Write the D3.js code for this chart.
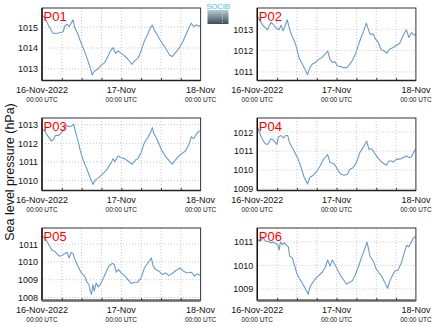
<!DOCTYPE html>
<html>
<head>
<meta charset="utf-8">
<script src="https://cdn.jsdelivr.net/npm/d3@7"></script>
<style>
  html, body { margin: 0; padding: 0; background: #fff; }
  svg { display: block; font-family: "Liberation Sans", Arial, sans-serif; }
</style>
</head>
<body>
<div id="chart"></div>
<script>
// Sea level pressure at six stations, 16–18 Nov 2022 (hours since 16-Nov 00:00 UTC, hPa)
const stations = ['P01', 'P02', 'P03', 'P04', 'P05', 'P06'];

const P01 = [[0,1015.58],[0.8,1015.46],[1.8,1015.14],[3.3,1014.71],[4.8,1014.71],[6.4,1014.78],[6.9,1015.06],[7.6,1015.14],[8.2,1015.03],[8.6,1015.14],[9.4,1015.35],[9.9,1014.98],[10.9,1014.66],[11.4,1014.42],[12.4,1014.02],[13.4,1013.62],[14.4,1013.14],[15.2,1012.71],[15.9,1012.9],[16.9,1012.98],[17.9,1013.18],[19,1013.3],[20,1013.62],[20.7,1013.86],[21.5,1014.02],[22.3,1013.74],[23,1013.86],[24,1013.74],[25,1013.62],[26,1013.46],[27.2,1013.22],[28,1013.38],[29,1013.5],[30,1013.86],[31,1014.34],[32,1014.66],[32.8,1014.98],[33.4,1015.1],[34.1,1014.82],[34.8,1014.66],[35.6,1014.42],[36.6,1014.18],[37.6,1013.94],[38.6,1013.66],[39.4,1013.59],[40.4,1013.78],[41.6,1014.02],[42.6,1014.3],[43.6,1014.66],[44.5,1014.98],[45.2,1015.19],[45.9,1015.03],[46.7,1015.1],[47.5,1015.06],[48,1015.06]];
const P02 = [[0,1013.63],[0.8,1013.39],[1.8,1013.16],[3.1,1012.97],[4.1,1013.31],[4.8,1013.23],[5.5,1013.08],[6.6,1012.97],[7.2,1013.19],[7.8,1012.92],[8.4,1013.16],[9.1,1013.44],[9.7,1013.03],[10.4,1012.72],[11.2,1012.45],[11.9,1012.14],[12.6,1011.67],[13.4,1011.44],[14.4,1011.13],[15.2,1010.88],[15.9,1011.2],[16.6,1011.36],[17.6,1011.44],[18.6,1011.59],[19.5,1011.67],[20.5,1011.83],[21.3,1011.98],[22,1011.59],[22.7,1011.44],[23.5,1011.47],[24.3,1011.28],[25.3,1011.25],[26,1011.2],[27,1011.2],[27.7,1011.31],[28.7,1011.52],[29.7,1011.83],[30.5,1012.22],[31.4,1012.61],[32.2,1012.92],[33,1013.28],[33.6,1013.0],[34.1,1012.77],[35.1,1012.77],[35.8,1012.53],[36.6,1012.38],[37.4,1012.06],[38.4,1011.98],[39.2,1011.88],[40,1012.06],[41.1,1012.14],[42.1,1012.25],[43.1,1012.34],[44.1,1012.69],[45.1,1012.97],[45.9,1012.61],[46.7,1012.84],[47.5,1012.72],[48,1012.77]];
const P03 = [[0,1012.79],[0.8,1012.66],[1.8,1012.39],[2.8,1012.13],[3.5,1012.21],[4.1,1012.43],[5.1,1012.43],[5.9,1012.57],[6.6,1012.75],[7.4,1012.96],[8.2,1012.89],[8.9,1012.93],[9.6,1013.02],[10.2,1012.57],[10.9,1012.13],[11.6,1011.59],[12.4,1011.14],[13.4,1010.7],[14.4,1010.25],[15.4,1009.8],[16.2,1010.04],[17.2,1010.16],[18.2,1010.34],[19.3,1010.52],[20.3,1010.79],[21,1010.98],[21.5,1011.18],[22,1011.0],[23,1011.32],[24,1011.23],[25,1011.18],[26,1011.05],[27.3,1010.88],[28.3,1011.11],[29,1011.18],[30,1011.5],[31,1012.04],[32,1012.3],[32.8,1012.57],[33.4,1012.84],[33.8,1012.54],[34.6,1012.3],[35.4,1011.95],[36.4,1011.59],[37.4,1011.29],[38.6,1011.05],[39.4,1010.88],[40.4,1011.11],[41.4,1011.32],[42.4,1011.46],[43.4,1011.59],[44.5,1011.95],[45.2,1012.36],[45.9,1012.25],[46.7,1012.48],[47.5,1012.66],[48,1012.66]];
const P04 = [[0,1012.32],[0.5,1012.05],[1.3,1011.7],[2.3,1011.4],[3.1,1011.35],[4.1,1011.65],[4.8,1011.58],[5.5,1011.44],[5.9,1011.35],[6.4,1011.75],[7.2,1011.82],[7.9,1011.7],[8.6,1011.82],[9.2,1011.82],[9.7,1011.47],[10.6,1011.18],[11.4,1010.91],[12.4,1010.56],[13.4,1010.04],[14.2,1009.6],[15.2,1009.25],[15.9,1009.6],[16.9,1009.72],[17.9,1009.9],[19,1010.21],[20,1010.56],[20.8,1010.7],[21.3,1010.82],[22,1010.39],[23,1010.35],[23.7,1010.21],[24.5,1009.95],[25.3,1009.77],[26.3,1009.72],[27.3,1009.77],[28,1010.04],[29,1010.12],[30,1010.39],[31,1010.91],[32,1011.18],[33.1,1011.53],[33.8,1011.09],[34.6,1011.12],[35.4,1010.91],[36.4,1010.65],[37.6,1010.42],[39.1,1010.25],[39.8,1010.47],[40.6,1010.47],[41.1,1010.42],[42.1,1010.56],[43.6,1010.6],[45.2,1010.74],[45.9,1010.65],[46.7,1010.7],[47.5,1011.0],[48,1011.09]];
const P05 = [[0,1011.48],[0.8,1011.35],[1.5,1011.16],[2.3,1010.88],[3.1,1010.65],[3.8,1010.6],[4.5,1010.47],[5.3,1010.32],[6.1,1010.36],[6.9,1010.47],[7.6,1010.54],[8.2,1010.22],[8.8,1010.54],[9.4,1010.47],[10,1010.13],[10.9,1009.76],[11.9,1009.38],[12.9,1009.2],[13.6,1008.86],[14.2,1008.73],[14.6,1008.36],[15,1008.17],[15.4,1008.73],[15.8,1008.36],[16.4,1008.82],[17,1008.6],[17.8,1008.79],[18.6,1009.1],[19.5,1009.48],[20.3,1009.79],[21.3,1009.91],[21.9,1009.85],[22.5,1009.42],[23.1,1009.57],[24,1009.38],[25,1009.23],[26,1009.01],[27,1008.79],[28,1008.86],[29,1008.86],[30,1009.1],[31,1009.66],[32,1009.94],[33.1,1010.22],[33.6,1009.79],[34.4,1009.57],[35.4,1009.48],[36.4,1009.29],[37.4,1009.38],[38.4,1009.23],[39.4,1009.35],[40.6,1009.53],[41.8,1009.66],[42.8,1009.48],[43.9,1009.38],[45.2,1009.42],[46.2,1009.2],[46.9,1009.33],[48,1009.23]];
const P06 = [[0,1011.17],[0.5,1011.03],[1.1,1011.07],[1.8,1011.17],[2.5,1011.03],[3.3,1011.03],[4.1,1010.96],[4.8,1010.99],[5.5,1010.93],[6.2,1010.89],[6.6,1010.65],[7,1010.99],[7.6,1010.89],[8.2,1010.96],[8.9,1010.85],[9.4,1010.79],[9.8,1010.39],[10.6,1010.32],[11.2,1010.04],[11.9,1009.69],[12.6,1009.48],[13.4,1009.3],[14.2,1009.1],[14.9,1008.92],[15.4,1008.77],[15.9,1009.06],[16.6,1009.24],[17.6,1009.44],[18.6,1009.58],[19.7,1009.72],[20.5,1009.9],[21.3,1010.23],[22,1009.97],[22.7,1010.23],[23.3,1010.08],[24,1009.9],[25,1009.62],[26,1009.41],[27,1009.2],[27.7,1009.27],[28.7,1009.34],[29.5,1009.55],[30.5,1009.9],[31.5,1010.32],[32.4,1010.65],[33.2,1010.99],[33.6,1010.75],[34.1,1010.39],[35.1,1010.18],[35.8,1009.9],[36.8,1009.69],[37.6,1009.55],[38.6,1009.27],[39.4,1009.03],[40.1,1009.34],[40.8,1009.55],[41.6,1009.76],[42.6,1009.8],[43.6,1010.11],[44.5,1010.54],[45.2,1010.85],[45.9,1010.79],[46.7,1011.03],[47.3,1011.17],[48,1011.24]];
const series = [P01, P02, P03, P04, P05, P06];

// y-axis range of each panel and its labelled ticks
const yDomains = [[1012.44, 1015.92], [1010.6, 1013.99], [1009.47, 1013.36], [1008.91, 1012.75], [1007.83, 1011.91], [1008.51, 1011.59]];
const yTicks = [[1013, 1014, 1015], [1011, 1012, 1013], [1010, 1011, 1012, 1013], [1009, 1010, 1011, 1012], [1008, 1009, 1010, 1011], [1009, 1010, 1011]];

const xStart = Date.UTC(2022, 10, 16), xEnd = Date.UTC(2022, 10, 18);
const xTickLabels = ['16-Nov-2022', '17-Nov', '18-Nov'];
const xTickSub = '00:00 UTC';

// ── layout ──
const W = 434, H = 327;
const colLeft = [42, 257.3], plotW = 158.6;
const rowTop = [8, 118, 228], plotH = 72.5;
const LINE = '#6c9ac8', FRAME = '#333';

const svg = d3.select('#chart').append('svg').attr('width', W).attr('height', H);
const HOUR = 3600 * 1000;

stations.forEach((name, i) => {
  const col = i % 2, row = Math.floor(i / 2);
  const isBottom = row === 2;
  const g = svg.append('g').attr('transform', `translate(${colLeft[col]},${rowTop[row]})`);

  const x = d3.scaleUtc().domain([xStart, xEnd]).range([0, plotW]);
  const y = d3.scaleLinear().domain(yDomains[i]).range([plotH, 0]);

  // dotted grid every 6 hours and at each labelled pressure
  const gridTimes = d3.range(1, 8).map(k => xStart + k * 6 * HOUR);
  g.selectAll('line.vg').data(gridTimes).join('line')
    .attr('x1', d => x(d)).attr('x2', d => x(d)).attr('y1', 0).attr('y2', plotH)
    .attr('stroke', '#bbb').attr('stroke-width', 0.8).attr('stroke-dasharray', '1,2');
  g.selectAll('line.hg').data(yTicks[i]).join('line')
    .attr('x1', 0).attr('x2', plotW).attr('y1', d => y(d)).attr('y2', d => y(d))
    .attr('stroke', '#bbb').attr('stroke-width', 0.8).attr('stroke-dasharray', '1,2');

  // the pressure line
  const line = d3.line().x(d => x(xStart + d[0] * HOUR)).y(d => y(d[1])).curve(d3.curveLinear);
  g.append('path').datum(series[i]).attr('d', line)
    .attr('fill', 'none').attr('stroke', LINE).attr('stroke-width', 1.1).attr('stroke-linejoin', 'round');

  // frame
  g.append('rect').attr('width', plotW).attr('height', plotH)
    .attr('fill', 'none').attr('stroke', FRAME).attr('stroke-width', 1);
  g.append('line').attr('x1', 0).attr('x2', 0).attr('y1', 0).attr('y2', plotH)
    .attr('stroke', '#111').attr('stroke-width', 1.4);
  g.append('line').attr('x1', 0).attr('x2', plotW).attr('y1', plotH).attr('y2', plotH)
    .attr('stroke', isBottom ? '#666' : '#222').attr('stroke-width', isBottom ? 2.6 : 1.4);

  // y axis labels
  const yAxis = g.append('g').call(d3.axisLeft(y).tickValues(yTicks[i]).tickSize(0).tickPadding(4).tickFormat(d3.format('d')));
  yAxis.select('.domain').remove();
  yAxis.selectAll('text').attr('font-size', 9).attr('fill', '#111').attr('font-family', '"Liberation Sans", Arial, sans-serif');

  // x axis: small inner ticks, dates + time below
  const xAxis = g.append('g').attr('transform', `translate(0,${plotH})`)
    .call(d3.axisBottom(x).tickValues(gridTimes).tickSize(-2.5).tickFormat(''));
  xAxis.select('.domain').remove();
  xAxis.selectAll('line').attr('stroke', '#333');

  const labelTimes = [0, 1, 2].map(k => xStart + k * 24 * HOUR);
  g.selectAll('text.xl').data(labelTimes).join('text')
    .attr('x', d => x(d)).attr('y', plotH + 12)
    .attr('text-anchor', 'middle').attr('font-size', 9).attr('fill', '#111')
    .text((d, k) => xTickLabels[k]);
  g.selectAll('text.xs').data(labelTimes).join('text')
    .attr('x', d => x(d)).attr('y', plotH + 21)
    .attr('text-anchor', 'middle').attr('font-size', 6.5).attr('fill', '#111')
    .text(xTickSub);

  // station name
  g.append('text').attr('x', 1.5).attr('y', 12.5)
    .attr('font-size', 13).attr('fill', '#f00').text(name);
});

// shared y-axis title
svg.append('text')
  .attr('transform', 'translate(14,172) rotate(-90)')
  .attr('text-anchor', 'middle').attr('font-size', 12.5).attr('fill', '#111')
  .text('Sea level pressure (hPa)');

// small logo at the top
const grad = svg.append('defs').append('linearGradient').attr('id', 'logoGrad')
  .attr('x1', 0).attr('y1', 0).attr('x2', 0).attr('y2', 1);
grad.append('stop').attr('offset', '0%').attr('stop-color', '#b7ccd6');
grad.append('stop').attr('offset', '100%').attr('stop-color', '#3d4d58');
svg.append('rect').attr('x', 207.5).attr('y', 10).attr('width', 21).attr('height', 14).attr('fill', 'url(#logoGrad)');
svg.append('text').attr('x', 218).attr('y', 9).attr('text-anchor', 'middle')
  .attr('font-size', 8).attr('fill', '#4cc4d6').attr('letter-spacing', -0.3).text('SOCIB');
svg.selectAll('rect.dots').data([12.5, 15.5, 18.5, 21.5]).join('rect')
  .attr('x', 222).attr('y', d => d).attr('width', 1).attr('height', 1).attr('fill', '#dfe8ec');
</script>
</body>
</html>
